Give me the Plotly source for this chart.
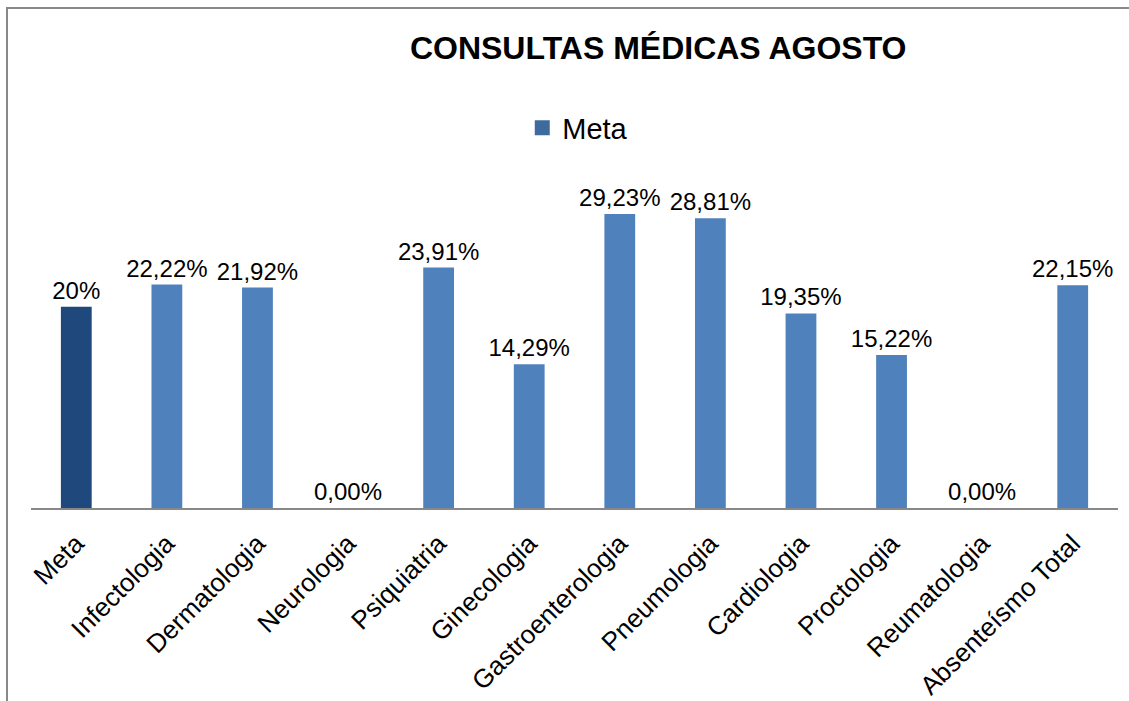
import plotly.graph_objects as go

categories = ["Meta", "Infectologia", "Dermatologia", "Neurologia", "Psiquiatria",
              "Ginecologia", "Gastroenterologia", "Pneumologia", "Cardiologia",
              "Proctologia", "Reumatologia", "Absenteísmo Total"]
values = [20, 22.22, 21.92, 0.0, 23.91, 14.29, 29.23, 28.81, 19.35, 15.22, 0.0, 22.15]
labels = ["20%", "22,22%", "21,92%", "0,00%", "23,91%", "14,29%", "29,23%",
          "28,81%", "19,35%", "15,22%", "0,00%", "22,15%"]
colors = ["#1F497D"] + ["#4F81BD"] * 11

FONT = "Liberation Sans, Arial, sans-serif"

fig = go.Figure()
fig.add_trace(go.Bar(
    x=categories, y=values, text=labels, textposition="outside",
    constraintext="none",
    marker=dict(color=colors, line=dict(width=0)),
    textfont=dict(family=FONT, size=24, color="#000000"),
    width=0.34, showlegend=False, cliponaxis=False,
))
fig.add_trace(go.Scatter(
    x=[None], y=[None], mode="markers", name="Meta",
    marker=dict(symbol="square", size=15, color="#3F6A9E"),
    showlegend=True,
))

fig.update_layout(
    width=1129, height=701,
    margin=dict(l=31, r=11, t=156, b=193),
    paper_bgcolor="white", plot_bgcolor="white",
    font=dict(family=FONT, color="#000000"),
    title=dict(text="<b>CONSULTAS MÉDICAS AGOSTO</b>", x=0.583, xanchor="center",
               y=1 - 48 / 701, yanchor="middle",
               font=dict(family=FONT, size=32, color="#000000")),
    legend=dict(orientation="h", x=0.503, xanchor="center", y=1 - 128 / 701,
                yref="container", yanchor="middle",
                font=dict(family=FONT, size=29, color="#000000"),
                itemwidth=30),
    xaxis=dict(tickangle=-45, tickfont=dict(family=FONT, size=26, color="#000000"),
               showline=True, linecolor="#888888", linewidth=2, ticks="",
               ticklabelstandoff=8,
               showgrid=False, range=[-0.5, 11.5], automargin=False),
    yaxis=dict(range=[0, 35], visible=False, showgrid=False, zeroline=False),
    shapes=[dict(type="rect", xref="paper", yref="paper",
                 x0=(7 - 31) / 1087, x1=1.2, y0=-1, y1=(508 - 8) / 352,
                 line=dict(color="#888888", width=2), fillcolor="rgba(0,0,0,0)",
                 layer="below")],
)

fig.write_html("out.html", config={"displayModeBar": False},
               post_script="document.body.style.margin='0';document.body.style.overflow='hidden';")
